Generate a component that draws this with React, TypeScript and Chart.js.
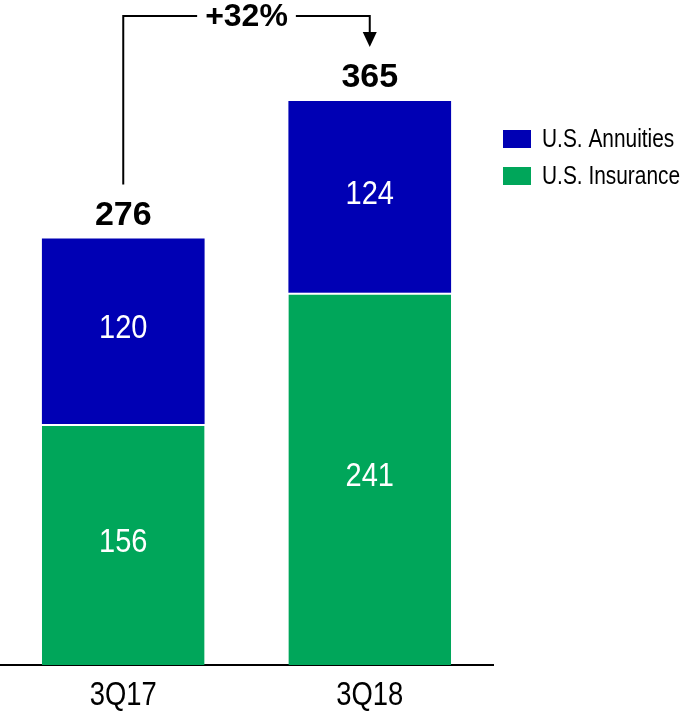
import React, { useEffect, useRef } from "react";
import { Chart, registerables } from "chart.js";

Chart.register(...registerables);

const categories = ["3Q17", "3Q18"];
const insuranceValues = [156, 241];
const annuitiesValues = [120, 124];
const totals = [276, 365];
const growthLabel = "+32%";
const seriesNames = ["U.S. Annuities", "U.S. Insurance"];

const BLUE = "#0000B4";
const GREEN = "#00A65A";
const SANS = '"Liberation Sans", Arial, sans-serif';

function narrowText(ctx: any, text: string, x: number, y: number, align: string, scale: number) {
  ctx.save();
  ctx.translate(x, y);
  ctx.scale(scale, 1);
  ctx.textAlign = align;
  ctx.fillText(text, 0, 0);
  ctx.restore();
}

const overlayPlugin = {
  id: "overlay",
  afterDatasetsDraw(chart: any) {
    const ctx = chart.ctx;
    const area = chart.chartArea;
    const xs = chart.scales.x;
    const ys = chart.scales.y;
    ctx.save();

    // inner segment labels
    ctx.fillStyle = "#ffffff";
    ctx.font = `33px ${SANS}`;
    ctx.textBaseline = "middle";
    chart.data.datasets.forEach((ds: any, di: number) => {
      const meta = chart.getDatasetMeta(di);
      meta.data.forEach((el: any, i: number) => {
        const cy = (el.y + el.base) / 2;
        narrowText(ctx, String(ds.data[i]), el.x, cy - 2, "center", 0.88);
      });
    });

    // category labels
    ctx.fillStyle = "#000000";
    ctx.font = `33px ${SANS}`;
    ctx.textBaseline = "middle";
    categories.forEach((c, i) => {
      narrowText(ctx, c, xs.getPixelForValue(i), area.bottom + 31, "center", 0.83);
    });

    // totals
    ctx.fillStyle = "#000000";
    ctx.font = `bold 34px ${SANS}`;
    ctx.textAlign = "center";
    ctx.textBaseline = "alphabetic";
    const tx: number[] = [];
    const ty: number[] = [];
    totals.forEach((t, i) => {
      const x = xs.getPixelForValue(i);
      const y = ys.getPixelForValue(t);
      tx.push(x);
      ty.push(y);
      ctx.fillText(String(t), x, y - 14);
    });

    // growth bracket
    const topY = 16;
    ctx.strokeStyle = "#000000";
    ctx.lineWidth = 2;
    ctx.font = `bold 32px ${SANS}`;
    const tw = ctx.measureText(growthLabel).width;
    const mid = (tx[0] + tx[1]) / 2;
    const gapL = mid - tw / 2 - 8;
    const gapR = mid + tw / 2 + 8;
    ctx.beginPath();
    ctx.moveTo(tx[0], ty[0] - 54);
    ctx.lineTo(tx[0], topY);
    ctx.lineTo(gapL, topY);
    ctx.moveTo(gapR, topY);
    ctx.lineTo(tx[1], topY);
    ctx.lineTo(tx[1], 33);
    ctx.stroke();
    ctx.fillStyle = "#000000";
    ctx.beginPath();
    ctx.moveTo(tx[1] - 7, 32);
    ctx.lineTo(tx[1] + 7, 32);
    ctx.lineTo(tx[1], 47);
    ctx.closePath();
    ctx.fill();
    ctx.textBaseline = "middle";
    ctx.fillText(growthLabel, mid, topY + 1);

    // legend
    const lx = area.right + 10;
    const colors = [BLUE, GREEN];
    ctx.font = `25px ${SANS}`;
    ctx.textBaseline = "middle";
    seriesNames.forEach((name, i) => {
      const y = 130 + i * 37;
      ctx.fillStyle = colors[i];
      ctx.fillRect(lx, y, 28, 18);
      ctx.fillStyle = "#000000";
      narrowText(ctx, name, lx + 39, y + 10, "left", 0.835);
    });

    ctx.restore();
  },
};

export default function App() {
  const ref = useRef<HTMLCanvasElement | null>(null);
  useEffect(() => {
    if (!ref.current) return;
    const chart = new Chart(ref.current, {
      type: "bar",
      data: {
        labels: categories,
        datasets: [
          {
            label: seriesNames[1],
            data: insuranceValues,
            backgroundColor: GREEN,
            borderColor: "#ffffff",
            borderWidth: { top: 2, left: 0, right: 0, bottom: 0 },
            borderSkipped: "start",
            barPercentage: 0.66,
            categoryPercentage: 1,
          },
          {
            label: seriesNames[0],
            data: annuitiesValues,
            backgroundColor: BLUE,
            borderWidth: 0,
            barPercentage: 0.66,
            categoryPercentage: 1,
          },
        ],
      },
      options: {
        responsive: false,
        animation: false,
        layout: { padding: { top: 47, right: 187, left: 0, bottom: 49 } },
        plugins: {
          legend: { display: false },
          tooltip: { enabled: false },
        },
        scales: {
          x: {
            stacked: true,
            grid: { display: false, drawTicks: false },
            border: { display: true, color: "#000000", width: 2 },
            ticks: { display: false },
          },
          y: {
            stacked: true,
            display: false,
            min: 0,
            max: 400,
          },
        },
      },
      plugins: [overlayPlugin],
    });
    return () => chart.destroy();
  }, []);
  return (
    <div style={{ position: "absolute", left: 0, top: 0, width: 680, height: 714 }}>
      <canvas ref={ref} width={680} height={714} style={{ display: "block" }} />
    </div>
  );
}
